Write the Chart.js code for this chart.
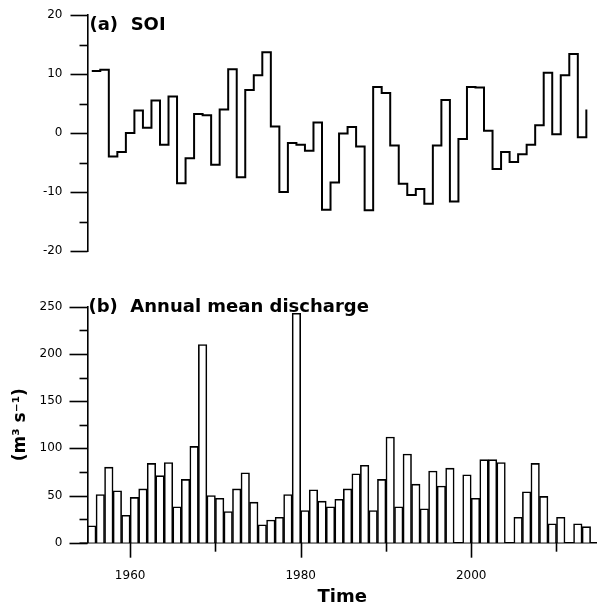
<!DOCTYPE html>
<html>
<head>
<meta charset="utf-8">
<script src="https://cdn.jsdelivr.net/npm/chart.js@4.4.1/dist/chart.umd.min.js"></script>
<style>
  html, body { margin: 0; padding: 0; background: #fff; }
  #wrap { position: relative; width: 597px; height: 609px; }
  #soiChart { position: absolute; left: 0; top: 0; }
  #dischargeChart { position: absolute; left: 0; top: 280px; }
</style>
</head>
<body>
<div id="wrap">
  <canvas id="soiChart" width="597" height="280"></canvas>
  <canvas id="dischargeChart" width="597" height="329"></canvas>
</div>
<script>
// years 1955 - 2013
const years = [];
for (let y = 1955; y <= 2013; y++) years.push(y);

// (a) annual SOI
const soi = [
  10.5, 10.7, -4.0, -3.2, 0.0, 3.8, 0.9, 5.5, -2.0, 6.2,
  -8.5, -4.3, 3.2, 3.0, -5.4, 4.0, 10.8, -7.5, 7.3, 9.8,
  13.7, 1.1, -10.0, -1.7, -2.0, -3.0, 1.8, -13.0, -8.4, -0.1,
  1.0, -2.3, -13.1, 7.8, 6.8, -2.1, -8.6, -10.5, -9.5, -12.0,
  -2.1, 5.6, -11.6, -1.0, 7.8, 7.7, 0.4, -6.1, -3.2, -4.9,
  -3.6, -2.0, 1.3, 10.2, -0.2, 9.8, 13.4, -0.7, 4.0
];

// (b) annual mean discharge, m3/s (null = no data)
const discharge = [
  18, 51, 80, 55, 29, 48, 57, 84, 71, 85,
  38, 67, 102, 210, 50, 47, 33, 57, 74, 43,
  19, 24, 27, 51, 243, 34, 56, 44, 38, 46,
  57, 73, 82, 34, 67, 112, 38, 94, 62, 36,
  76, 60, 79, null, 72, 47, 88, 88, 85, null,
  27, 54, 84, 49, 20, 27, null, 20, 17
];

const xLabelYears = [1960, 1980, 2000];
const xMin = 1955, xMax = 2014.75;

const FONT = "'DejaVu Sans', sans-serif";

// fixed y-axis width, no extra padding from the tick labels
const fixYAxis = s => {
  s.width = 87.5;
  s.paddingTop = 0;
  s.paddingBottom = 0;
};

// tick marks of two lengths + panel label
const panelDecor = {
  id: 'panelDecor',
  afterDraw(chart, args, opts) {
    const ctx = chart.ctx;
    ctx.save();
    ctx.strokeStyle = '#000';
    ctx.lineWidth = 1.6;
    const ys = chart.scales.y;
    ys.ticks.forEach(t => {
      const py = Math.round(ys.getPixelForValue(t.value)) + 0.5;
      const len = t.label !== '' ? opts.yMajor : opts.yMinor;
      ctx.beginPath();
      ctx.moveTo(ys.right - len, py);
      ctx.lineTo(ys.right, py);
      ctx.stroke();
    });
    const xs = chart.scales.x;
    if (xs.options.display) {
      xs.ticks.forEach(t => {
        const px = Math.round(xs.getPixelForValue(t.value)) + 0.5;
        const len = t.label !== '' ? opts.xMajor : opts.xMinor;
        ctx.beginPath();
        ctx.moveTo(px, xs.top);
        ctx.lineTo(px, xs.top + len);
        ctx.stroke();
      });
      ctx.beginPath();
      ctx.moveTo(xs.left - 8, xs.top + 0.5);
      ctx.lineTo(xs.left, xs.top + 0.5);
      ctx.stroke();
    }
    ctx.font = 'bold 18px ' + FONT;
    ctx.fillStyle = '#000';
    ctx.textBaseline = 'middle';
    ctx.fillText(opts.title, chart.chartArea.left + opts.dx, chart.chartArea.top + opts.dy);
    ctx.restore();
  }
};

// Panel (a): SOI step line, each year's value held for one year
const soiCtx = document.getElementById('soiChart').getContext('2d');
const soiChart = new Chart(soiCtx, {
  type: 'line',
  data: {
    datasets: [{
      data: years.map((y, i) => ({ x: y + 0.5, y: soi[i] })),
      stepped: 'before',
      borderColor: '#000',
      borderWidth: 2,
      pointRadius: 0,
      fill: false
    }]
  },
  options: {
    responsive: false,
    animation: false,
    devicePixelRatio: 1,
    layout: { autoPadding: false, padding: { top: 15, bottom: 29, left: 0, right: 0 } },
    plugins: {
      legend: { display: false },
      tooltip: { enabled: false },
      panelDecor: { title: '(a)  SOI', dx: 2, dy: 10, yMajor: 17, yMinor: 8 }
    },
    scales: {
      x: { type: 'linear', display: false, min: xMin, max: xMax },
      y: {
        min: -20, max: 20,
        afterFit: fixYAxis,
        grid: { display: false, drawTicks: false },
        border: { display: true, color: '#000', width: 1.6 },
        ticks: {
          stepSize: 5, padding: 25, color: '#000',
          font: { family: FONT, size: 12 },
          callback: v => (v % 10 === 0 ? String(v) : '')
        }
      }
    }
  },
  plugins: [panelDecor]
});

// Panel (b): annual mean discharge bars
const qCtx = document.getElementById('dischargeChart').getContext('2d');
const dischargeChart = new Chart(qCtx, {
  type: 'bar',
  data: {
    datasets: [{
      data: years.map((y, i) => ({ x: y + 0.5, y: discharge[i] })),
      backgroundColor: '#fff',
      borderColor: '#000',
      borderWidth: 1.6,
      barPercentage: 1,
      categoryPercentage: 1
    }]
  },
  options: {
    responsive: false,
    animation: false,
    devicePixelRatio: 1,
    layout: { autoPadding: false, padding: { top: 26.7, bottom: 0, left: 0, right: 0 } },
    plugins: {
      legend: { display: false },
      tooltip: { enabled: false },
      panelDecor: { title: '(b)  Annual mean discharge', dx: 1, dy: 1, yMajor: 18, yMinor: 8, xMajor: 15, xMinor: 9 }
    },
    scales: {
      x: {
        type: 'linear', min: xMin, max: xMax, offset: false,
        afterFit: s => { s.height = 66.3; },
        grid: { display: false, drawTicks: false },
        border: { display: true, color: '#000', width: 1.6 },
        ticks: {
          stepSize: 10, includeBounds: false, autoSkip: false, maxRotation: 0,
          padding: 26, color: '#000',
          font: { family: FONT, size: 12 },
          callback: v => (xLabelYears.includes(v) ? String(v) : '')
        },
        title: {
          display: true, text: 'Time', color: '#000',
          font: { family: FONT, size: 18, weight: 'bold' },
          padding: { top: 0, bottom: 1.2 }
        }
      },
      y: {
        min: 0, max: 250,
        afterFit: fixYAxis,
        grid: { display: false, drawTicks: false },
        border: { display: true, color: '#000', width: 1.6 },
        ticks: {
          stepSize: 25, padding: 25, color: '#000',
          font: { family: FONT, size: 12 },
          callback: v => (v % 50 === 0 ? String(v) : '')
        },
        title: {
          display: true, text: '(m³ s⁻¹)', color: '#000',
          font: { family: FONT, size: 17, weight: 'bold' },
          padding: { top: 10, bottom: 0 }
        }
      }
    }
  },
  plugins: [panelDecor]
});
</script>
</body>
</html>
